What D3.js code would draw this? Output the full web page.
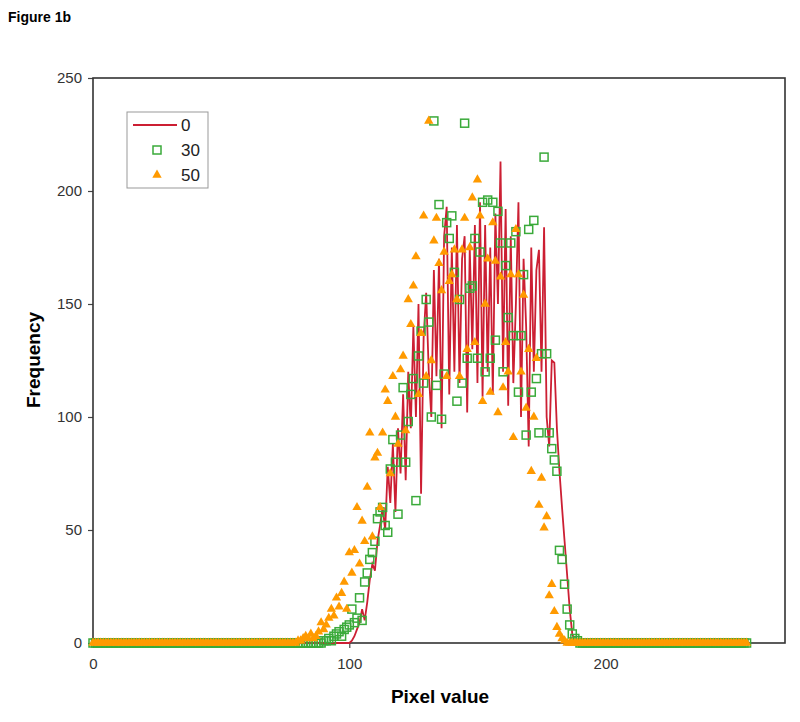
<!DOCTYPE html>
<html>
<head>
<meta charset="utf-8">
<script src="https://cdn.jsdelivr.net/npm/d3@7"></script>
<style>
  body { margin: 0; background: #fff; }
  svg { display: block; font-family: "Liberation Sans", Arial, sans-serif; }
</style>
</head>
<body>
<div id="chart"></div>
<script>
// histogram of pixel values, three series (0, 30, 50)
var width = 800, height = 722;

var seriesNames = ["0", "30", "50"];
var xTicks = [0, 100, 200];
var yTicks = [0, 50, 100, 150, 200, 250];

// series "0": non-zero part starts at pixel value 100
var start0 = 100;
var freq0 = [0, 1, 3, 6, 9, 15, 10, 18, 28, 35, 32, 45, 52, 60, 50, 78, 62, 88, 58, 95,
  75, 110, 72, 120, 95, 140, 100, 150, 66, 135, 155, 120, 100, 165, 118, 170, 95, 180, 193, 110,
  175, 120, 185, 115, 170, 180, 102, 175, 130, 185, 115, 195, 109, 185, 120, 175, 110, 190, 150, 213,
  120, 192, 105, 180, 115, 150, 195, 100, 170, 140, 87, 175, 120, 165, 174, 120, 184, 100, 87, 125,
  124, 95, 76, 60, 45, 30, 15, 4, 1, 0];

// series "30": starts at 90
var start30 = 90;
var freq30 = [1, 1, 2, 1, 3, 4, 5, 3, 6, 7, 8, 15, 9, 11, 20, 10, 27, 31, 37, 40,
  45, 55, 58, 60, 52, 49, 77, 90, 80, 57, 92, 113, 80, 98, 110, 117, 63, 127, 138, 115,
  152, 142, 100, 231, 114, 194, 99, 119, 186, 179, 189, 164, 107, 152, 115, 230, 126, 157, 158, 179,
  126, 173, 195, 120, 196, 126, 195, 134, 191, 177, 120, 167, 144, 177, 136, 182, 111, 136, 163, 92,
  183, 111, 187, 117, 93, 128, 215, 128, 93, 86, 81, 76, 41, 37, 26, 15, 8, 4, 2, 1, 0];

// series "50": starts at 80
var start50 = 80;
var freq50 = [1, 1, 2, 3, 2, 4, 2, 3, 5, 9, 6, 8, 11, 15, 12, 20, 16, 22, 27, 15,
  40, 31, 41, 60, 35, 54, 45, 69, 93, 47, 82, 84, 60, 93, 112, 107, 75, 118, 100, 88,
  121, 127, 94, 152, 141, 158, 171, 110, 137, 189, 118, 231, 125, 178, 188, 168, 156, 173, 118, 160,
  163, 174, 152, 118, 174, 188, 130, 175, 197, 133, 205, 189, 107, 150, 170, 111, 186, 169, 102, 162,
  113, 133, 120, 163, 91, 183, 163, 120, 154, 104, 130, 76, 100, 126, 61, 73, 51, 56, 21, 26,
  14, 7, 4, 2, 1, 0];

var pixelValues = d3.range(0, 256);

function fullSeries(start, vals) {
  return pixelValues.map(function(v) {
    var i = v - start;
    return { x: v, y: (i >= 0 && i < vals.length) ? vals[i] : 0 };
  });
}
var s0 = fullSeries(start0, freq0);
var s30 = fullSeries(start30, freq30);
var s50 = fullSeries(start50, freq50);

var colors = { line: "#cc1f33", square: "#3aaa3a", tri: "#ff9a00" };

var x = d3.scaleLinear().domain([0, 270]).range([93, 785]);
var y = d3.scaleLinear().domain([0, 250]).range([643, 78]);

var svg = d3.select("#chart").append("svg")
  .attr("width", width)
  .attr("height", height);

svg.append("text")
  .attr("x", 8).attr("y", 22)
  .style("font-size", "14px").style("font-weight", "bold")
  .text("Figure 1b");

// axes
var xAxis = svg.append("g").attr("transform", "translate(0,643)")
  .call(d3.axisBottom(x).tickValues(xTicks).tickSize(5).tickPadding(10));
var yAxis = svg.append("g").attr("transform", "translate(93,0)")
  .call(d3.axisLeft(y).tickValues(yTicks).tickSize(5).tickPadding(6));
[xAxis, yAxis].forEach(function(g) {
  g.select(".domain").remove();
  g.selectAll("line").attr("stroke", "#444").attr("stroke-width", 1.2);
  g.selectAll("text").style("font-size", "15px").style("fill", "#333")
    .style("font-family", "Liberation Sans, Arial, sans-serif");
});

// plot frame
svg.append("rect")
  .attr("x", x(0)).attr("y", y(250))
  .attr("width", x(270) - x(0)).attr("height", y(0) - y(250))
  .attr("fill", "none").attr("stroke", "#333").attr("stroke-width", 1.6);

// series 0 - line
svg.append("path")
  .datum(s0)
  .attr("fill", "none")
  .attr("stroke", colors.line)
  .attr("stroke-width", 1.8)
  .attr("d", d3.line().x(function(d) { return x(d.x); }).y(function(d) { return y(d.y); }));

// series 30 - hollow squares
svg.append("g").selectAll("rect")
  .data(s30).enter().append("rect")
  .attr("x", function(d) { return x(d.x) - 4; })
  .attr("y", function(d) { return y(d.y) - 4; })
  .attr("width", 8).attr("height", 8)
  .attr("fill", "none")
  .attr("stroke", colors.square)
  .attr("stroke-width", 1.5);

// series 50 - filled triangles
var tri = d3.symbol().type(d3.symbolTriangle).size(38);
svg.append("g").selectAll("path")
  .data(s50).enter().append("path")
  .attr("transform", function(d) { return "translate(" + x(d.x) + "," + y(d.y) + ")"; })
  .attr("d", tri)
  .attr("fill", colors.tri);

// axis titles
svg.append("text")
  .attr("x", 440).attr("y", 703)
  .attr("text-anchor", "middle")
  .style("font-size", "19px").style("font-weight", "bold")
  .text("Pixel value");

svg.append("text")
  .attr("transform", "translate(40,360) rotate(-90)")
  .attr("text-anchor", "middle")
  .style("font-size", "19px").style("font-weight", "bold")
  .text("Frequency");

// legend
var legend = svg.append("g");
legend.append("rect")
  .attr("x", 127).attr("y", 112).attr("width", 81).attr("height", 76)
  .attr("fill", "#fff").attr("stroke", "#999").attr("stroke-width", 1);
var rowY = [125, 150, 175];
legend.append("line")
  .attr("x1", 133).attr("x2", 177).attr("y1", rowY[0]).attr("y2", rowY[0])
  .attr("stroke", colors.line).attr("stroke-width", 2);
legend.append("rect")
  .attr("x", 153).attr("y", rowY[1] - 4).attr("width", 8).attr("height", 8)
  .attr("fill", "none").attr("stroke", colors.square).attr("stroke-width", 1.5);
legend.append("path")
  .attr("transform", "translate(157," + rowY[2] + ")")
  .attr("d", tri).attr("fill", colors.tri);
legend.selectAll("text.lab")
  .data(seriesNames).enter().append("text")
  .attr("class", "lab")
  .attr("x", 181)
  .attr("y", function(d, i) { return rowY[i] + 6; })
  .style("font-size", "17px").style("fill", "#222")
  .text(function(d) { return d; });
</script>
</body>
</html>
